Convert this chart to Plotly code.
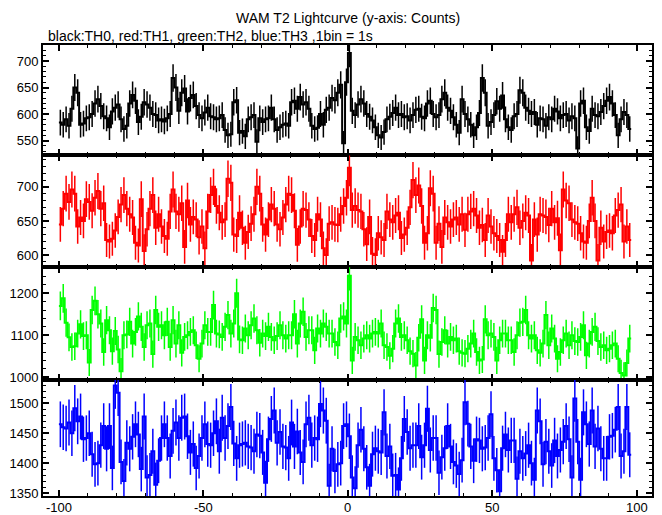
import numpy as np
import plotly.graph_objects as go

# bin start times (s), 1 bin = 1 s
bin_start = list(range(-100, 98))

th0_counts = [
    584, 580, 590, 578, 610, 650, 640, 580, 582, 592, 594, 600, 620, 628, 615, 596, 592, 575, 605, 612,
    618, 590, 572, 578, 620, 636, 625, 585, 595, 622, 618, 612, 600, 598, 588, 590, 586, 592, 600, 668,
    650, 606, 640, 648, 605, 630, 636, 615, 598, 592, 603, 612, 596, 594, 590, 592, 598, 570, 560, 562,
    622, 626, 565, 568, 558, 590, 594,
    598, 548, 592, 585, 590, 592, 612, 590, 570, 575, 580, 582, 578, 622, 625, 610, 632, 618, 622, 610,
    578, 572, 574, 600, 580, 608, 612, 630, 626, 640, 655, 545, 660, 715, 606, 598, 618, 628, 620, 600,
    595, 588, 575, 560, 556, 566, 590, 595, 602, 612, 598, 600, 594, 596, 588, 598, 608, 610, 595, 592,
    620, 625, 600, 594, 598, 628, 640, 612, 606, 594,
    580, 565, 628, 600, 590, 580, 560, 575, 602, 668, 640, 578, 585, 598, 624, 610, 635, 590, 575, 570,
    596, 600, 645, 640, 612, 606, 600, 604, 580, 592, 590, 578, 594, 590, 610, 605, 592, 598, 600, 588,
    596, 592, 535, 620, 625, 575, 568, 610, 598, 596, 604, 615, 625, 632, 620, 598, 560, 590, 604, 598,
    572,
]

th1_counts = [
    645, 668, 690, 678, 696, 690, 642, 655, 650, 682, 678, 665, 684, 694, 668, 676, 622, 620, 624, 636,
    656, 674, 688, 668, 660, 655, 618, 614, 682, 606, 638, 668, 688, 640, 660, 642, 628, 624, 664, 696,
    664, 660, 676, 612, 680, 645, 656, 652, 626, 642, 610, 664, 688, 700, 672, 662, 648, 652, 712, 706,
    630, 628, 662, 640, 618, 634, 646,
    660, 700, 690, 645, 630, 652, 674, 668, 645, 638, 655, 674, 690, 688, 665, 615, 642, 668, 666, 652,
    628, 622, 660, 652, 610, 600, 646, 648, 645, 644, 660, 672, 684, 728, 666, 672, 666, 664, 638, 616,
    656, 602, 600, 632, 626, 622, 664, 652, 648, 658, 662, 625, 630, 640, 670, 710, 688, 702, 672, 618,
    632, 698, 690, 618, 646, 612, 655, 648, 642, 652,
    655, 645, 660, 637, 660, 664, 668, 658, 640, 644, 622, 658, 642, 632, 628, 622, 605, 622, 660, 648,
    660, 670, 640, 650, 662, 658, 592, 652, 630, 660, 658, 656, 644, 668, 648, 654, 607, 696, 680, 676,
    652, 648, 646, 632, 620, 618, 650, 684, 650, 592, 640, 620, 634, 636, 632, 658, 666, 674, 620, 642,
    622,
]

th2_counts = [
    1170, 1188, 1130, 1095, 1072, 1074, 1104, 1126, 1098, 1100, 1035, 1160, 1182, 1150, 1128, 1060, 1136, 1112, 1062, 1110,
    1066, 1014, 1100, 1102, 1132, 1080, 1108, 1145, 1120, 1072, 1124, 1128, 1055, 1160, 1120, 1124, 1100, 1132, 1072, 1136,
    1080, 1124, 1058, 1096, 1100, 1108, 1112, 1076, 1044, 1080, 1124, 1108, 1108, 1172, 1104, 1102, 1096, 1120, 1148, 1104,
    1128, 1200, 1090, 1088, 1116, 1100, 1124,
    1140, 1112, 1082, 1104, 1098, 1120, 1096, 1088, 1098, 1124, 1100, 1092, 1100, 1100, 1150, 1080, 1128, 1156, 1096, 1112,
    1112, 1064, 1116, 1104, 1128, 1120, 1104, 1104, 1084, 1076, 1140, 1145, 1128, 1242, 1040, 1096, 1088, 1076, 1092, 1100,
    1092, 1104, 1108, 1104, 1128, 1076, 1072, 1051, 1068, 1128, 1140, 1096, 1100, 1088, 1062, 1056, 1028, 1094, 1138, 1040,
    1100, 1094, 1165, 1160, 1055, 1084, 1112, 1080, 1096, 1088,
    1092, 1062, 1058, 1056, 1068, 1080, 1104, 1060, 1040, 1042, 1138, 1100, 1104, 1096, 1040, 1088, 1104, 1104, 1088, 1088,
    1060, 1100, 1130, 1132, 1160, 1100, 1092, 1100, 1064, 1058, 1080, 1148, 1076, 1116, 1092, 1044, 1060, 1088, 1104, 1076,
    1100, 1086, 1084, 1096, 1124, 1052, 1080, 1108, 1120, 1086, 1072, 1076, 1064, 1068, 1076, 1080, 1044, 1010, 1004, 1034,
    1092,
]

th3_counts = [
    1465, 1460, 1458, 1468, 1450, 1492, 1470, 1478, 1440, 1442, 1450, 1415, 1398, 1400, 1430, 1462, 1424, 1462, 1392, 1530,
    1518, 1402, 1370, 1434, 1424, 1444, 1465, 1448, 1390, 1478, 1376, 1380, 1420, 1364, 1404, 1442, 1465, 1442, 1412, 1454,
    1468, 1442, 1476, 1478, 1445, 1418, 1432, 1392, 1412, 1442, 1465, 1432, 1430, 1450, 1470, 1420, 1476, 1442, 1462, 1494,
    1433, 1408, 1430, 1432, 1434, 1428, 1426,
    1420, 1448, 1446, 1418, 1367, 1440, 1474, 1488, 1434, 1452, 1428, 1426, 1408, 1468, 1428, 1453, 1418, 1402, 1465, 1476,
    1430, 1442, 1440, 1499, 1488, 1471, 1362, 1424, 1387, 1398, 1400, 1462, 1465, 1445, 1376, 1358, 1430, 1456, 1424, 1393,
    1362, 1415, 1425, 1420, 1418, 1485, 1412, 1428, 1379, 1380, 1356, 1408, 1474, 1452, 1425, 1430, 1430, 1462, 1410, 1430,
    1491, 1422, 1442, 1442, 1384, 1410, 1425, 1462, 1428, 1402,
    1396, 1382, 1405, 1502, 1466, 1428, 1404, 1440, 1438, 1424, 1426, 1442, 1482, 1408, 1388, 1353, 1425, 1448, 1422, 1438,
    1438, 1374, 1420, 1408, 1416, 1430, 1400, 1372, 1488, 1470, 1398, 1436, 1420, 1396, 1438, 1412, 1422, 1436, 1462, 1440,
    1376, 1508, 1436, 1372, 1485, 1465, 1432, 1488, 1428, 1458, 1424, 1408, 1408, 1444, 1446, 1456, 1494, 1412, 1420, 1494,
    1414,
]

x_ticks = [-100, -50, 0, 50, 100]
x_ticklabels = ["\u2212100" if False else "-100", "-50", "0", "50", "100"]
panel_colors = ["black", "red", "#00ff00", "blue"]
panel_yticks = [[550, 600, 650, 700], [600, 650, 700], [1000, 1100, 1200], [1350, 1400, 1450, 1500]]
panel_yranges = [[522, 730], [582, 746], [993, 1262], [1345, 1539]]
panel_minor = [10, 10, 20, 10]
panel_domains = [[0.755, 1.0], [0.507, 0.755], [0.257, 0.507], [0.0, 0.257]]
series = [th0_counts, th1_counts, th2_counts, th3_counts]

FONT = "Liberation Sans, Arial, Helvetica, sans-serif"

fig = go.Figure()
edges = bin_start + [bin_start[-1] + 1]
centers = [b + 0.5 for b in bin_start]

for i, vals in enumerate(series):
    n = i + 1
    xa = "x" if n == 1 else f"x{n}"
    ya = "y" if n == 1 else f"y{n}"
    col = panel_colors[i]
    err = np.sqrt(np.array(vals, dtype=float))
    fig.add_trace(go.Scatter(
        x=centers, y=vals, mode="markers",
        marker=dict(size=1, color=col),
        error_y=dict(type="data", array=err, width=0, thickness=1.5, color=col),
        xaxis=xa, yaxis=ya, showlegend=False, hoverinfo="skip",
    ))
    fig.add_trace(go.Scatter(
        x=edges, y=vals + [vals[-1]], mode="lines",
        line=dict(shape="hv", color=col, width=2),
        xaxis=xa, yaxis=ya, showlegend=False,
    ))

# page body has an 8px default margin, so the figure is 8px smaller
layout = dict(
    width=654, height=507,
    margin=dict(l=35, r=10, t=37, b=19, autoexpand=False),
    paper_bgcolor="white", plot_bgcolor="white",
    font=dict(family=FONT, size=13, color="black"),
    showlegend=False,
)

for i in range(4):
    n = i + 1
    xk = "xaxis" if n == 1 else f"xaxis{n}"
    yk = "yaxis" if n == 1 else f"yaxis{n}"
    ya = "y" if n == 1 else f"y{n}"
    xa = "x" if n == 1 else f"x{n}"
    layout[xk] = dict(
        domain=[0, 1], anchor=ya, range=[-105.5, 105.2], automargin=False,
        tickmode="array", tickvals=x_ticks,
        showticklabels=False, ticks="inside", ticklen=6, tickwidth=1.5, tickcolor="black",
        minor=dict(ticks="inside", ticklen=3, tickwidth=1, tickcolor="black", tickmode="linear", tick0=0, dtick=10),
        showline=True, linewidth=2, linecolor="black", mirror="allticks",
        showgrid=False, zeroline=False,
    )
    if n != 1:
        layout[xk]["matches"] = "x"
    layout[yk] = dict(
        domain=panel_domains[i], anchor=xa, range=panel_yranges[i], automargin=False,
        tickmode="array", tickvals=panel_yticks[i], ticktext=[str(v) for v in panel_yticks[i]],
        ticks="inside", ticklen=6, tickwidth=1.5, tickcolor="black",
        minor=dict(ticks="inside", ticklen=3, tickwidth=1, tickcolor="black", tickmode="linear", tick0=0, dtick=panel_minor[i]),
        showline=True, linewidth=2, linecolor="black", mirror="allticks",
        showgrid=False, zeroline=False, tickfont=dict(size=13, family=FONT),
    )

annotations = [
    dict(text="WAM T2 Lightcurve (y-axis: Counts)", xref="paper", yref="paper",
         x=0.5, y=1.06, xanchor="center", yanchor="middle", showarrow=False,
         font=dict(size=14, family=FONT, color="black")),
    dict(text="black:TH0, red:TH1, green:TH2, blue:TH3 ,1bin = 1s", xref="paper", yref="paper",
         x=0.005, y=1.02, xanchor="left", yanchor="middle", showarrow=False,
         font=dict(size=14, family=FONT, color="black")),
]
# bottom x tick labels (placed just under the lowest panel)
for v, lab in zip(x_ticks, x_ticklabels):
    annotations.append(dict(text=lab, xref="x4", yref="paper", x=v, y=-0.0244,
                            xanchor="center", yanchor="middle", showarrow=False,
                            font=dict(size=13, family=FONT, color="black")))
layout["annotations"] = annotations

fig.update_layout(**layout)
fig.write_html("out.html")
